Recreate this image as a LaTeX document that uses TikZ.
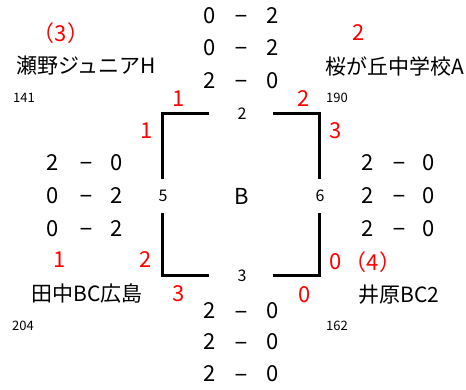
\documentclass[tikz,border=0pt]{standalone}
\usepackage{fontspec}
\setmainfont{Noto Sans CJK JP}
\newfontfamily\minusfont{Liberation Sans}
\usetikzlibrary{positioning}

\begin{document}
\begin{tikzpicture}[x=1pt,y=-1pt,
        score/.style={font=\fontsize{22}{22}\selectfont, inner sep=0pt},
        scoresep/.style={font=\minusfont\fontsize{22}{22}\selectfont, inner sep=0pt, text height=16pt, text depth=0pt},
        win/.style={font=\fontsize{22}{22}\selectfont, text=red, inner sep=0pt},
        team/.style={font=\fontsize{21}{21}\selectfont, inner sep=0pt},
        pts/.style={font=\fontsize{13}{13}\selectfont, anchor=west, inner sep=0pt},
        gameno/.style={font=\fontsize{16}{16}\selectfont, inner sep=0pt},
        bracket/.style={line width=3pt}]
        \useasboundingbox (0,0) rectangle (466,390);
        % teams
        \node[team] (tA) at (86,66) {瀬野ジュニアH};
        \node[team] (tB) at (395,66) {桜が丘中学校A};
        \node[team] (tC) at (87,294) {田中BC広島};
        \node[team] (tD) at (399,295) {井原BC2};
        \node[pts] (pA) at (13,98) {141};
        \node[pts] (pB) at (326,98) {190};
        \node[pts] (pC) at (12,326) {204};
        \node[pts] (pD) at (326,326) {162};
        % ranks
        \node[win] (rA) at (61,33) {（3）};
        \node[win] (rB) at (359,33) {2};
        \node[win] (rC) at (60,260) {1};
        \node[win] (rD) at (373,262) {（4）};
        % games
        \node[score] (blk) at (242,196) {B};
        \node[gameno] (g2) at (242,114) {2};
        \node[gameno] (g5) at (163,196) {5};
        \node[gameno] (g6) at (320,196) {6};
        \node[gameno] (g3) at (242,276) {3};
        % brackets
        \coordinate (tl1) at (209,114); \coordinate (tl2) at (162,114); \coordinate (tl3) at (162,179);
        \coordinate (tr1) at (273,114); \coordinate (tr2) at (319,114); \coordinate (tr3) at (319,179);
        \coordinate (bl1) at (162,213); \coordinate (bl2) at (162,276); \coordinate (bl3) at (209,276);
        \coordinate (br1) at (319,213); \coordinate (br2) at (319,276); \coordinate (br3) at (273,276);
        \draw[bracket] (tl1) -- (tl2) -- (tl3);
        \draw[bracket] (tr1) -- (tr2) -- (tr3);
        \draw[bracket] (bl1) -- (bl2) -- (bl3);
        \draw[bracket] (br1) -- (br2) -- (br3);
        % set counts
        \node[win] (wA2) at (179,99) {1};
        \node[win] (wA5) at (147,131) {1};
        \node[win] (wB2) at (304,99) {2};
        \node[win] (wB6) at (336,131) {3};
        \node[win] (wC5) at (146,260) {2};
        \node[win] (wC3) at (179,294) {3};
        \node[win] (wD6) at (336,262) {0};
        \node[win] (wD3) at (305,295) {0};
        % set scores
        \foreach \y/\a/\b [count=\i] in {16/0/2, 48/0/2, 81/2/0}
        {
            \node[score] (topa\i) at (210,\y) {\a};
            \node[scoresep] (topm\i) at (241,\y) {−};
            \node[score] (topb\i) at (273,\y) {\b};
        }
        \foreach \y/\a/\b [count=\i] in {163/2/0, 196/0/2, 229/0/2}
        {
            \node[score] (lefta\i) at (53,\y) {\a};
            \node[scoresep] (leftm\i) at (86,\y) {−};
            \node[score] (leftb\i) at (117,\y) {\b};
        }
        \foreach \y/\a/\b [count=\i] in {163/2/0, 196/2/0, 229/2/0}
        {
            \node[score] (righta\i) at (368,\y) {\a};
            \node[scoresep] (rightm\i) at (399,\y) {−};
            \node[score] (rightb\i) at (429,\y) {\b};
        }
        \foreach \y/\a/\b [count=\i] in {311/2/0, 342/2/0, 374/2/0}
        {
            \node[score] (bota\i) at (210,\y) {\a};
            \node[scoresep] (botm\i) at (241,\y) {−};
            \node[score] (botb\i) at (273,\y) {\b};
        }
\end{tikzpicture}
\end{document}
